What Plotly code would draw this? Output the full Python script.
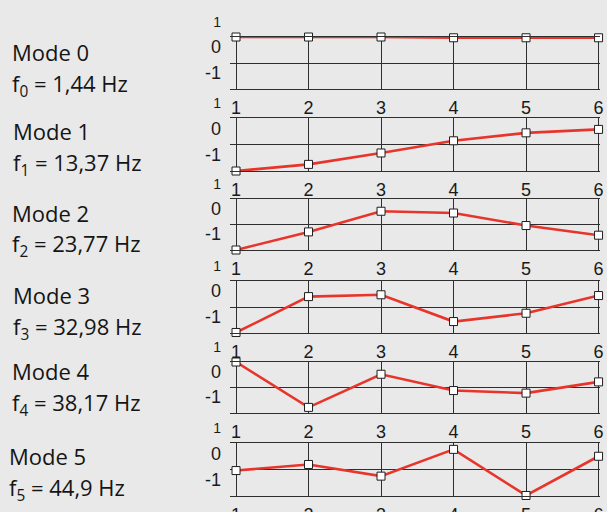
import plotly.graph_objects as go

# Sensor positions along the structure
positions = [1, 2, 3, 4, 5, 6]

# Normalised mode shapes (max |amplitude| = 1)
mode0 = [1.0, 1.0, 1.0, 0.97, 0.97, 0.97]
mode1 = [-1.0, -0.75, -0.32, 0.14, 0.44, 0.57]
mode2 = [-1.0, -0.29, 0.52, 0.45, -0.04, -0.42]
mode3 = [-0.98, 0.40, 0.47, -0.56, -0.24, 0.44]
mode4 = [1.0, -0.78, 0.52, -0.12, -0.22, 0.22]
mode5 = [-0.04, 0.19, -0.25, 0.76, -0.98, 0.50]

mode_titles = ["Mode 0", "Mode 1", "Mode 2", "Mode 3", "Mode 4", "Mode 5"]
freq_titles = [
    "f<sub>0</sub> = 1,44 Hz",
    "f<sub>1</sub> = 13,37 Hz",
    "f<sub>2</sub> = 23,77 Hz",
    "f<sub>3</sub> = 32,98 Hz",
    "f<sub>4</sub> = 38,17 Hz",
    "f<sub>5</sub> = 44,9 Hz",
]
y_tick_vals = [-1, 0, 1]
y_tick_text = ["-1", "0", "<span style='font-size:14px'>1</span>"]

shapes = [mode0, mode1, mode2, mode3, mode4, mode5]

W, H = 607, 512
BG = "#e9e9e9"
GRID = "#2e2e2e"
RED = "#e8352b"

# panel top/bottom edges in pixels
panel_px = [(37, 89), (118, 171), (199, 250), (281, 333), (362, 413), (443, 496)]
# label line centres in pixels
mode_y = [52, 131, 213, 295, 371, 456]
freq_y = [85, 164, 245, 328, 404, 489]
label_x = [10, 11, 10, 11, 10, 7]

fig = go.Figure()
layout = dict(
    width=W, height=H,
    margin=dict(l=0, r=0, t=0, b=0, autoexpand=False),
    paper_bgcolor=BG, plot_bgcolor=BG,
    showlegend=False,
    annotations=[],
)

x_dom = [230 / W, 600 / W]

for i, vals in enumerate(shapes):
    n = "" if i == 0 else str(i + 1)
    fig.add_trace(go.Scatter(
        x=positions, y=vals,
        mode="lines+markers",
        line=dict(color=RED, width=2.6),
        marker=dict(symbol="square", size=8, color="white",
                    line=dict(color="#1e1e1e", width=1)),
        cliponaxis=False,
        xaxis="x" + n, yaxis="y" + n,
        hoverinfo="skip",
    ))
    top, bot = panel_px[i]
    layout["xaxis" + n] = dict(
        domain=x_dom, anchor="y" + n,
        range=[0.917, 6.02],
        tickvals=positions, ticktext=[str(p) for p in positions],
        showgrid=True, gridcolor=GRID, gridwidth=1,
        showline=True, mirror=True, linecolor=GRID, linewidth=1,
        zeroline=False, ticks="", automargin=False,
        tickfont=dict(family="Liberation Sans, Arial", size=18, color="#1a1a1a"),
        ticklabelstandoff=2,
    )
    layout["yaxis" + n] = dict(
        domain=[1 - bot / H, 1 - top / H], anchor="x" + n,
        range=[-1, 1],
        tickvals=y_tick_vals, ticktext=y_tick_text,
        showgrid=True, gridcolor=GRID, gridwidth=1,
        zeroline=True, zerolinecolor=GRID, zerolinewidth=1,
        showline=False, ticks="", automargin=False,
        tickfont=dict(family="Liberation Sans, Arial", size=18, color="#1a1a1a"),
        ticklabelshift=-16, ticklabelstandoff=8,
    )
    layout["annotations"].append(dict(
        text=mode_titles[i], xref="paper", yref="paper",
        x=label_x[i] / W, y=1 - mode_y[i] / H,
        xanchor="left", yanchor="middle", showarrow=False,
        font=dict(family="Open Sans", size=22, color="#151515"),
    ))
    layout["annotations"].append(dict(
        text=freq_titles[i], xref="paper", yref="paper",
        x=label_x[i] / W, y=1 - freq_y[i] / H,
        xanchor="left", yanchor="middle", showarrow=False,
        font=dict(family="Open Sans", size=22, color="#151515"),
    ))

fig.update_layout(**layout)
fig.write_html("out.html")
